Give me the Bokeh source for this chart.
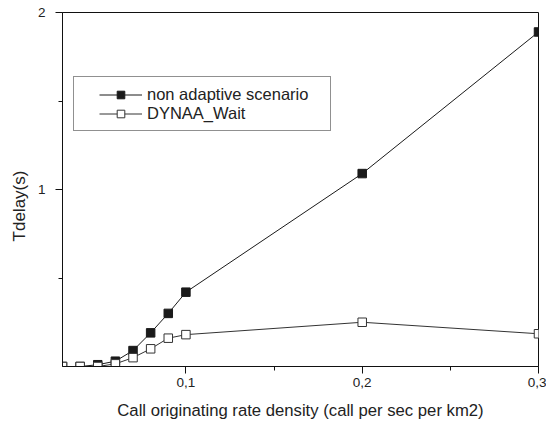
from bokeh.plotting import figure
from bokeh.models import (Range1d, FixedTicker, CustomJSTickFormatter, Legend, LegendItem,
                          ColumnDataSource)
from bokeh.embed import file_html
from bokeh.resources import INLINE

# ---- data ----
rate = [0.03, 0.04, 0.05, 0.06, 0.07, 0.08, 0.09, 0.10, 0.20, 0.30]
non_adaptive = [0.0, 0.0, 0.01, 0.03, 0.09, 0.19, 0.30, 0.42, 1.09, 1.89]
dynaa_wait = [0.0, 0.0, 0.0, 0.015, 0.05, 0.10, 0.16, 0.18, 0.25, 0.185]
x_ticks = [0.1, 0.2, 0.3]
x_minor = [0.15, 0.25]
y_ticks = [1, 2]
y_minor = [0.5, 1.5]
series_names = ["non adaptive scenario", "DYNAA_Wait"]
x_title = "Call originating rate density (call per sec per km2)"
y_title = "Tdelay(s)"

FONT = "Liberation Sans"

p = figure(width=546, height=425, output_backend="svg", toolbar_location=None,
           x_range=Range1d(0.03, 0.3), y_range=Range1d(0, 2),
           min_border_left=62, min_border_right=8, min_border_top=12, min_border_bottom=59)
p.background_fill_color = "white"
p.border_fill_color = "white"
p.outline_line_color = "#111111"
p.outline_line_width = 1
p.xgrid.visible = False
p.ygrid.visible = False

src = ColumnDataSource(dict(x=rate, a=non_adaptive, b=dynaa_wait))

l1 = p.line("x", "a", source=src, line_color="#1a1a1a", line_width=1)
s1 = p.scatter("x", "a", source=src, marker="square", size=8.5,
               fill_color="#1a1a1a", line_color="#1a1a1a")
l2 = p.line("x", "b", source=src, line_color="#333333", line_width=1)
s2 = p.scatter("x", "b", source=src, marker="square", size=8.5,
               fill_color="white", line_color="#333333", line_width=1)

# axes
xa = p.xaxis[0]
xa.ticker = FixedTicker(ticks=x_ticks, minor_ticks=x_minor)
xa.formatter = CustomJSTickFormatter(code="return tick.toFixed(1).replace('.', ',');")
xa.axis_label = x_title
xa.axis_label_text_font = FONT
xa.axis_label_text_font_size = "16.7px"
xa.axis_label_text_font_style = "normal"
xa.axis_label_text_color = "#222222"
xa.axis_label_standoff = 11
xa.major_label_text_font = FONT
xa.major_label_text_font_size = "13.5px"
xa.major_label_text_color = "#222222"
xa.major_label_standoff = 4
xa.major_tick_out = 7
xa.major_tick_in = 0
xa.minor_tick_out = 4
xa.minor_tick_in = 0
xa.axis_line_color = "#111111"
xa.major_tick_line_color = "#111111"
xa.minor_tick_line_color = "#111111"

ya = p.yaxis[0]
ya.ticker = FixedTicker(ticks=y_ticks, minor_ticks=y_minor)
# trailing no-break spaces shift the visible title below the frame centre, as in the reference
ya.axis_label = y_title + "\u00a0" * 7
ya.axis_label_text_font = FONT
ya.axis_label_text_font_size = "17px"
ya.axis_label_text_font_style = "normal"
ya.axis_label_text_color = "#222222"
ya.axis_label_standoff = 6
ya.major_label_text_font = FONT
ya.major_label_text_font_size = "13.5px"
ya.major_label_text_color = "#222222"
ya.major_label_standoff = 10
ya.major_tick_out = 7
ya.major_tick_in = 0
ya.minor_tick_out = 4
ya.minor_tick_in = 0
ya.axis_line_color = "#111111"
ya.major_tick_line_color = "#111111"
ya.minor_tick_line_color = "#111111"

# legend frame (box only)
dummy = p.scatter(x=[], y=[], marker="square", fill_alpha=0, line_alpha=0)
frame_leg = Legend(items=[LegendItem(label=" ", renderers=[dummy])],
                   location=(11, 235), padding=0, spacing=0, margin=0,
                   glyph_width=256, glyph_height=53, label_width=0, label_height=0,
                   label_standoff=0, label_text_font_size="1px", label_text_alpha=0,
                   border_line_color="#222222", border_line_width=1,
                   background_fill_color="white", background_fill_alpha=1)
p.add_layout(frame_leg)

leg = Legend(items=[LegendItem(label=series_names[0], renderers=[l1, s1]),
                    LegendItem(label=series_names[1], renderers=[l2, s2])],
             location=(37, 243), padding=0, spacing=0, margin=0,
             glyph_width=43, glyph_height=19, label_height=19, label_standoff=5,
             label_text_font=FONT, label_text_font_size="16.5px", label_text_color="#222222",
             border_line_alpha=0, background_fill_alpha=0)
p.add_layout(leg)

open("out.html", "w").write(file_html(p, INLINE))
